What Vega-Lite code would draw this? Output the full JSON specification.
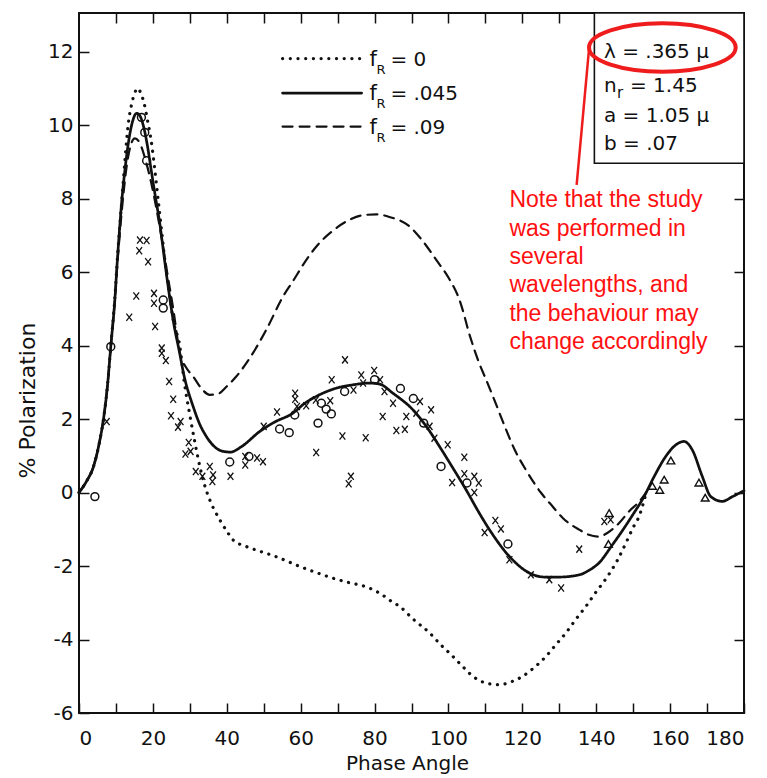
{
  "$schema": "https://vega.github.io/schema/vega-lite/v6.json",
  "width": 665,
  "height": 700,
  "autosize": {"type": "none"},
  "padding": {"left": 79, "top": 13, "right": 23, "bottom": 65},
  "background": "white",
  "config": {
    "view": {"stroke": "#111", "strokeWidth": 2},
    "axis": {
      "labelFont": "DejaVu Sans", "labelFontSize": 20, "labelColor": "#111",
      "titleFont": "DejaVu Sans", "titleFontSize": 21, "titleFontWeight": "normal", "titleColor": "#111",
      "tickColor": "#111", "tickWidth": 1.5, "domain": false, "grid": false
    }
  },
  "datasets": {
    "curves": [
      {"fR": ".045", "angle": 0, "pol": 0}, {"fR": ".045", "angle": 2, "pol": 0.3}, {"fR": ".045", "angle": 3.9, "pol": 0.7},
      {"fR": ".045", "angle": 5.5, "pol": 1.35}, {"fR": ".045", "angle": 6.6, "pol": 1.98}, {"fR": ".045", "angle": 7.7, "pol": 2.9},
      {"fR": ".045", "angle": 8.6, "pol": 3.97}, {"fR": ".045", "angle": 9.7, "pol": 5.24}, {"fR": ".045", "angle": 10.3, "pol": 6.2},
      {"fR": ".045", "angle": 11, "pol": 7.2}, {"fR": ".045", "angle": 11.5, "pol": 7.85}, {"fR": ".045", "angle": 12.4, "pol": 8.75},
      {"fR": ".045", "angle": 13.5, "pol": 9.6}, {"fR": ".045", "angle": 14.5, "pol": 10.1}, {"fR": ".045", "angle": 15.6, "pol": 10.32},
      {"fR": ".045", "angle": 16.5, "pol": 10.25}, {"fR": ".045", "angle": 17.5, "pol": 9.95}, {"fR": ".045", "angle": 18.5, "pol": 9.45},
      {"fR": ".045", "angle": 19.5, "pol": 8.8}, {"fR": ".045", "angle": 20.6, "pol": 8.1}, {"fR": ".045", "angle": 21.9, "pol": 7.3},
      {"fR": ".045", "angle": 23, "pol": 6.45}, {"fR": ".045", "angle": 24, "pol": 5.7}, {"fR": ".045", "angle": 25, "pol": 5.0},
      {"fR": ".045", "angle": 26, "pol": 4.4}, {"fR": ".045", "angle": 26.9, "pol": 3.97}, {"fR": ".045", "angle": 28.5, "pol": 3.15},
      {"fR": ".045", "angle": 30.9, "pol": 2.34}, {"fR": ".045", "angle": 32.5, "pol": 1.9}, {"fR": ".045", "angle": 34.5, "pol": 1.52},
      {"fR": ".045", "angle": 37, "pol": 1.22}, {"fR": ".045", "angle": 39, "pol": 1.12}, {"fR": ".045", "angle": 41, "pol": 1.1},
      {"fR": ".045", "angle": 44, "pol": 1.25}, {"fR": ".045", "angle": 48.9, "pol": 1.66}, {"fR": ".045", "angle": 53, "pol": 1.92},
      {"fR": ".045", "angle": 57.9, "pol": 2.16}, {"fR": ".045", "angle": 61, "pol": 2.42}, {"fR": ".045", "angle": 65.1, "pol": 2.66},
      {"fR": ".045", "angle": 70, "pol": 2.85}, {"fR": ".045", "angle": 74.1, "pol": 2.93}, {"fR": ".045", "angle": 78.6, "pol": 2.98},
      {"fR": ".045", "angle": 81.4, "pol": 2.95}, {"fR": ".045", "angle": 85, "pol": 2.7}, {"fR": ".045", "angle": 90.4, "pol": 2.25},
      {"fR": ".045", "angle": 94, "pol": 1.8}, {"fR": ".045", "angle": 97.6, "pol": 1.25}, {"fR": ".045", "angle": 101, "pol": 0.7},
      {"fR": ".045", "angle": 104.8, "pol": 0.07}, {"fR": ".045", "angle": 108, "pol": -0.5}, {"fR": ".045", "angle": 111.1, "pol": -1.01},
      {"fR": ".045", "angle": 116.5, "pol": -1.74}, {"fR": ".045", "angle": 121.9, "pol": -2.19}, {"fR": ".045", "angle": 126, "pol": -2.3},
      {"fR": ".045", "angle": 130, "pol": -2.3}, {"fR": ".045", "angle": 135.4, "pol": -2.24}, {"fR": ".045", "angle": 138, "pol": -2.12},
      {"fR": ".045", "angle": 140.8, "pol": -1.91}, {"fR": ".045", "angle": 144.4, "pol": -1.42}, {"fR": ".045", "angle": 147, "pol": -1.05},
      {"fR": ".045", "angle": 149.8, "pol": -0.62}, {"fR": ".045", "angle": 153, "pol": -0.1}, {"fR": ".045", "angle": 155.5, "pol": 0.4},
      {"fR": ".045", "angle": 158.8, "pol": 0.98}, {"fR": ".045", "angle": 161, "pol": 1.25}, {"fR": ".045", "angle": 163.8, "pol": 1.39},
      {"fR": ".045", "angle": 166, "pol": 1.16}, {"fR": ".045", "angle": 168.7, "pol": 0.44}, {"fR": ".045", "angle": 171, "pol": -0.11},
      {"fR": ".045", "angle": 174.1, "pol": -0.24}, {"fR": ".045", "angle": 176.9, "pol": -0.11}, {"fR": ".045", "angle": 180, "pol": 0.05},

      {"fR": ".09", "angle": 0, "pol": 0}, {"fR": ".09", "angle": 2, "pol": 0.3}, {"fR": ".09", "angle": 3.9, "pol": 0.7},
      {"fR": ".09", "angle": 5.5, "pol": 1.35}, {"fR": ".09", "angle": 6.6, "pol": 1.98}, {"fR": ".09", "angle": 7.7, "pol": 2.9},
      {"fR": ".09", "angle": 8.6, "pol": 3.97}, {"fR": ".09", "angle": 9.7, "pol": 5.24}, {"fR": ".09", "angle": 10.3, "pol": 6.1},
      {"fR": ".09", "angle": 11, "pol": 7.0}, {"fR": ".09", "angle": 12, "pol": 8.1}, {"fR": ".09", "angle": 13, "pol": 8.95},
      {"fR": ".09", "angle": 14, "pol": 9.45}, {"fR": ".09", "angle": 15.1, "pol": 9.64}, {"fR": ".09", "angle": 16.5, "pol": 9.5},
      {"fR": ".09", "angle": 18, "pol": 9.05}, {"fR": ".09", "angle": 19.5, "pol": 8.45}, {"fR": ".09", "angle": 21, "pol": 7.7},
      {"fR": ".09", "angle": 22.5, "pol": 6.85}, {"fR": ".09", "angle": 24, "pol": 5.9}, {"fR": ".09", "angle": 25.5, "pol": 5.0},
      {"fR": ".09", "angle": 27.3, "pol": 3.8}, {"fR": ".09", "angle": 29, "pol": 3.4}, {"fR": ".09", "angle": 30.9, "pol": 3.16},
      {"fR": ".09", "angle": 33, "pol": 2.85}, {"fR": ".09", "angle": 35.4, "pol": 2.66}, {"fR": ".09", "angle": 37.5, "pol": 2.68},
      {"fR": ".09", "angle": 39.9, "pol": 2.88}, {"fR": ".09", "angle": 42.5, "pol": 3.15}, {"fR": ".09", "angle": 45.3, "pol": 3.52},
      {"fR": ".09", "angle": 50.7, "pol": 4.43}, {"fR": ".09", "angle": 55.2, "pol": 5.33}, {"fR": ".09", "angle": 57.9, "pol": 5.75},
      {"fR": ".09", "angle": 61, "pol": 6.25}, {"fR": ".09", "angle": 64.2, "pol": 6.69}, {"fR": ".09", "angle": 69, "pol": 7.15},
      {"fR": ".09", "angle": 73.2, "pol": 7.42}, {"fR": ".09", "angle": 77, "pol": 7.55}, {"fR": ".09", "angle": 80.5, "pol": 7.57},
      {"fR": ".09", "angle": 84, "pol": 7.5}, {"fR": ".09", "angle": 89.5, "pol": 7.24}, {"fR": ".09", "angle": 93, "pol": 6.85},
      {"fR": ".09", "angle": 96.7, "pol": 6.33}, {"fR": ".09", "angle": 100, "pol": 5.85}, {"fR": ".09", "angle": 103, "pol": 5.24},
      {"fR": ".09", "angle": 106, "pol": 4.2}, {"fR": ".09", "angle": 108.4, "pol": 3.5}, {"fR": ".09", "angle": 110.2, "pol": 3.07},
      {"fR": ".09", "angle": 112.5, "pol": 2.5}, {"fR": ".09", "angle": 115.6, "pol": 1.71}, {"fR": ".09", "angle": 118, "pol": 1.15},
      {"fR": ".09", "angle": 121, "pol": 0.61}, {"fR": ".09", "angle": 125, "pol": 0.0}, {"fR": ".09", "angle": 128.2, "pol": -0.38},
      {"fR": ".09", "angle": 131, "pol": -0.7}, {"fR": ".09", "angle": 135.4, "pol": -1.01}, {"fR": ".09", "angle": 138, "pol": -1.15},
      {"fR": ".09", "angle": 140.8, "pol": -1.2}, {"fR": ".09", "angle": 143, "pol": -1.1}, {"fR": ".09", "angle": 146.2, "pol": -0.83},
      {"fR": ".09", "angle": 149, "pol": -0.5}, {"fR": ".09", "angle": 151.6, "pol": -0.25}, {"fR": ".09", "angle": 153.5, "pol": 0.0},

      {"fR": "0", "angle": 0, "pol": 0}, {"fR": "0", "angle": 2, "pol": 0.3}, {"fR": "0", "angle": 3.9, "pol": 0.7},
      {"fR": "0", "angle": 5.5, "pol": 1.35}, {"fR": "0", "angle": 6.6, "pol": 1.98}, {"fR": "0", "angle": 7.7, "pol": 2.9},
      {"fR": "0", "angle": 8.6, "pol": 3.97}, {"fR": "0", "angle": 9.7, "pol": 5.3}, {"fR": "0", "angle": 10.4, "pol": 6.4},
      {"fR": "0", "angle": 11, "pol": 7.2}, {"fR": "0", "angle": 11.7, "pol": 8.1}, {"fR": "0", "angle": 12.4, "pol": 9.0},
      {"fR": "0", "angle": 13.3, "pol": 10.0}, {"fR": "0", "angle": 14.2, "pol": 10.55}, {"fR": "0", "angle": 15, "pol": 10.85},
      {"fR": "0", "angle": 15.9, "pol": 11.0}, {"fR": "0", "angle": 16.8, "pol": 10.85}, {"fR": "0", "angle": 17.6, "pol": 10.6},
      {"fR": "0", "angle": 18.5, "pol": 10.15}, {"fR": "0", "angle": 19.5, "pol": 9.6}, {"fR": "0", "angle": 20.5, "pol": 8.8},
      {"fR": "0", "angle": 21.5, "pol": 7.9}, {"fR": "0", "angle": 22.5, "pol": 7.0}, {"fR": "0", "angle": 23.5, "pol": 6.1},
      {"fR": "0", "angle": 24.5, "pol": 5.4}, {"fR": "0", "angle": 25.5, "pol": 4.7}, {"fR": "0", "angle": 27.3, "pol": 3.97},
      {"fR": "0", "angle": 28.5, "pol": 3.0}, {"fR": "0", "angle": 29.9, "pol": 2.16}, {"fR": "0", "angle": 31.3, "pol": 1.4},
      {"fR": "0", "angle": 32.7, "pol": 0.71}, {"fR": "0", "angle": 34, "pol": 0.2}, {"fR": "0", "angle": 35.4, "pol": -0.2},
      {"fR": "0", "angle": 38.1, "pol": -0.74}, {"fR": "0", "angle": 40, "pol": -1.05}, {"fR": "0", "angle": 41.7, "pol": -1.29},
      {"fR": "0", "angle": 45.3, "pol": -1.47}, {"fR": "0", "angle": 49, "pol": -1.6}, {"fR": "0", "angle": 53.2, "pol": -1.74},
      {"fR": "0", "angle": 59.7, "pol": -2.01}, {"fR": "0", "angle": 64, "pol": -2.17}, {"fR": "0", "angle": 68.7, "pol": -2.33},
      {"fR": "0", "angle": 73, "pol": -2.45}, {"fR": "0", "angle": 77.5, "pol": -2.56}, {"fR": "0", "angle": 81.4, "pol": -2.74},
      {"fR": "0", "angle": 84.7, "pol": -2.97}, {"fR": "0", "angle": 86.8, "pol": -3.1}, {"fR": "0", "angle": 90.5, "pol": -3.45},
      {"fR": "0", "angle": 94.9, "pol": -3.82}, {"fR": "0", "angle": 98, "pol": -4.15}, {"fR": "0", "angle": 101.2, "pol": -4.46},
      {"fR": "0", "angle": 104, "pol": -4.75}, {"fR": "0", "angle": 106.6, "pol": -5.0}, {"fR": "0", "angle": 110, "pol": -5.18},
      {"fR": "0", "angle": 113.8, "pol": -5.23}, {"fR": "0", "angle": 117, "pol": -5.15}, {"fR": "0", "angle": 120.1, "pol": -5.0},
      {"fR": "0", "angle": 123, "pol": -4.78}, {"fR": "0", "angle": 126.4, "pol": -4.46}, {"fR": "0", "angle": 129, "pol": -4.15},
      {"fR": "0", "angle": 131.8, "pol": -3.82}, {"fR": "0", "angle": 134.5, "pol": -3.45}, {"fR": "0", "angle": 137.2, "pol": -3.1},
      {"fR": "0", "angle": 140, "pol": -2.7}, {"fR": "0", "angle": 142.6, "pol": -2.35}, {"fR": "0", "angle": 145.8, "pol": -1.83},
      {"fR": "0", "angle": 148, "pol": -1.38}, {"fR": "0", "angle": 150, "pol": -0.95}, {"fR": "0", "angle": 151.6, "pol": -0.65},
      {"fR": "0", "angle": 153.4, "pol": -0.05}
    ],
    "crosses": [
      {"angle": 7.5, "pol": 1.93}, {"angle": 13.6, "pol": 4.77}, {"angle": 15.5, "pol": 5.35}, {"angle": 16.5, "pol": 6.87},
      {"angle": 18.3, "pol": 6.86}, {"angle": 16.3, "pol": 6.58}, {"angle": 18.7, "pol": 6.28}, {"angle": 20.3, "pol": 5.42},
      {"angle": 20.3, "pol": 5.15}, {"angle": 20.6, "pol": 4.52}, {"angle": 22.4, "pol": 3.93}, {"angle": 22.4, "pol": 3.79},
      {"angle": 23.5, "pol": 3.59}, {"angle": 24.4, "pol": 3.02}, {"angle": 25.5, "pol": 2.54}, {"angle": 24.9, "pol": 2.09},
      {"angle": 27.5, "pol": 1.93}, {"angle": 26.8, "pol": 1.78}, {"angle": 29.7, "pol": 1.36}, {"angle": 30.2, "pol": 1.12},
      {"angle": 28.8, "pol": 1.05}, {"angle": 31.6, "pol": 0.57}, {"angle": 33.4, "pol": 0.44}, {"angle": 35.4, "pol": 0.71},
      {"angle": 36.3, "pol": 0.48}, {"angle": 36.1, "pol": 0.3}, {"angle": 41, "pol": 0.44}, {"angle": 45, "pol": 0.98},
      {"angle": 45, "pol": 0.75}, {"angle": 48.2, "pol": 0.94}, {"angle": 49.8, "pol": 0.84}, {"angle": 50, "pol": 1.8},
      {"angle": 53.6, "pol": 2.19}, {"angle": 58.5, "pol": 2.7}, {"angle": 58.5, "pol": 2.54}, {"angle": 59, "pol": 2.34},
      {"angle": 61.5, "pol": 2.36}, {"angle": 64.1, "pol": 2.52}, {"angle": 68, "pol": 2.5}, {"angle": 64.2, "pol": 1.09},
      {"angle": 68.4, "pol": 3.07}, {"angle": 72, "pol": 3.61}, {"angle": 71.3, "pol": 1.54}, {"angle": 73.6, "pol": 0.44},
      {"angle": 73, "pol": 0.24}, {"angle": 74.3, "pol": 2.79}, {"angle": 76.4, "pol": 3.2}, {"angle": 76.9, "pol": 2.98},
      {"angle": 77.6, "pol": 1.49}, {"angle": 79.9, "pol": 3.32}, {"angle": 81.5, "pol": 3.07}, {"angle": 82.2, "pol": 2.07},
      {"angle": 82.7, "pol": 2.75}, {"angle": 85, "pol": 2.43}, {"angle": 85.9, "pol": 1.69}, {"angle": 88.2, "pol": 1.72},
      {"angle": 88.6, "pol": 2.07}, {"angle": 91.3, "pol": 2.16}, {"angle": 92.3, "pol": 2.48}, {"angle": 95.3, "pol": 2.25},
      {"angle": 94.9, "pol": 1.8}, {"angle": 96.2, "pol": 1.48}, {"angle": 99.8, "pol": 1.3}, {"angle": 104.3, "pol": 0.96},
      {"angle": 104.3, "pol": 0.51}, {"angle": 107, "pol": 0.44}, {"angle": 108.2, "pol": 0.26}, {"angle": 107, "pol": 0},
      {"angle": 101, "pol": 0.27}, {"angle": 112.7, "pol": -0.76}, {"angle": 114.2, "pol": -0.99}, {"angle": 109.8, "pol": -1.09},
      {"angle": 116.5, "pol": -1.83}, {"angle": 122.3, "pol": -2.24}, {"angle": 127.3, "pol": -2.37}, {"angle": 130.5, "pol": -2.6},
      {"angle": 135.4, "pol": -1.54}, {"angle": 142.2, "pol": -0.79}, {"angle": 143.9, "pol": -0.74}
    ],
    "circles": [
      {"angle": 4.3, "pol": -0.11}, {"angle": 8.6, "pol": 3.97}, {"angle": 16.9, "pol": 10.21}, {"angle": 17.8, "pol": 9.8},
      {"angle": 18.3, "pol": 9.03}, {"angle": 22.8, "pol": 5.24}, {"angle": 22.8, "pol": 5.02}, {"angle": 40.8, "pol": 0.83},
      {"angle": 46, "pol": 0.98}, {"angle": 54.3, "pol": 1.73}, {"angle": 56.9, "pol": 1.63}, {"angle": 58.4, "pol": 2.11},
      {"angle": 64.7, "pol": 1.89}, {"angle": 65.6, "pol": 2.43}, {"angle": 66.9, "pol": 2.27}, {"angle": 68.3, "pol": 2.14},
      {"angle": 71.9, "pol": 2.75}, {"angle": 80, "pol": 3.07}, {"angle": 87, "pol": 2.83}, {"angle": 90.5, "pol": 2.56},
      {"angle": 93.3, "pol": 1.89}, {"angle": 98, "pol": 0.71}, {"angle": 105, "pol": 0.26}, {"angle": 116.1, "pol": -1.4}
    ],
    "triangles": [
      {"angle": 143.5, "pol": -0.56}, {"angle": 143.3, "pol": -1.4}, {"angle": 155.2, "pol": 0.18}, {"angle": 157.2, "pol": 0.07},
      {"angle": 158.4, "pol": 0.35}, {"angle": 160.2, "pol": 0.87}, {"angle": 167.8, "pol": 0.27}, {"angle": 169.5, "pol": -0.14}
    ],
    "legend": [
      {"fR": "0", "angle": 55.1, "angle2": 76.5, "tx": 78.6, "pol": 11.81, "label": "= 0"},
      {"fR": ".045", "angle": 55.1, "angle2": 76.5, "tx": 78.6, "pol": 10.87, "label": "= .045"},
      {"fR": ".09", "angle": 55.1, "angle2": 76.5, "tx": 78.6, "pol": 9.96, "label": "= .09"}
    ],
    "box": [{"angle": 139.5, "angle2": 180, "pol": 8.96, "pol2": 13.05}],
    "params": [
      {"angle": 142.1, "pol": 11.82, "txt": "λ = .365 μ"},
      {"angle": 142.1, "pol": 10.91, "txt": "n"},
      {"angle": 142.1, "pol": 10.09, "txt": "a = 1.05 μ"},
      {"angle": 142.1, "pol": 9.32, "txt": "b = .07"}
    ],
    "paramsub": [{"angle": 142.1, "pol": 10.91, "sub": "r", "rest": "= 1.45"}],
    "ellipse": [{"angle": 157.9, "pol": 12.11}],
    "pointer": [{"angle": 138.1, "pol": 12.12, "angle2": 134.7, "pol2": 8.37}],
    "note": [{"angle": 116.5, "pol": 7.76, "txt": "Note that the study\nwas performed in\nseveral\nwavelengths, and\nthe behaviour may\nchange accordingly"}]
  },
  "encoding": {
    "x": {"field": "angle", "type": "quantitative", "scale": {"domain": [0, 180], "nice": false, "zero": false}, "axis": null},
    "y": {"field": "pol", "type": "quantitative", "scale": {"domain": [-6, 13.05], "nice": false, "zero": false}, "axis": null}
  },
  "layer": [
    {
      "data": {"name": "curves"},
      "mark": {"type": "line", "strokeCap": "round", "interpolate": "monotone", "color": "#111"},
      "encoding": {
        "x": {"field": "angle", "type": "quantitative", "scale": {"domain": [0, 180], "nice": false, "zero": false},
          "axis": {"orient": "bottom", "values": [0, 10, 20, 30, 40, 50, 60, 70, 80, 90, 100, 110, 120, 130, 140, 150, 160, 170, 180],
            "labelExpr": "datum.value % 20 === 0 ? datum.label : ''", "tickSize": -10, "labelPadding": 25,
            "title": "Phase Angle", "titlePadding": 5, "titleX": 328, "titleFontSize": 20}},
        "y": {"field": "pol", "type": "quantitative", "scale": {"domain": [-6, 13.05], "nice": false, "zero": false},
          "axis": {"orient": "left", "values": [-6, -4, -2, 0, 2, 4, 6, 8, 10, 12],
            "labelExpr": "datum.value < 0 ? '-' + (-datum.value) : datum.label", "tickSize": -10, "labelPadding": 16,
            "title": "% Polarization", "titlePadding": 8, "titleY": 387, "titleFontSize": 22}},
        "strokeDash": {"field": "fR", "type": "nominal", "scale": {"domain": ["0", ".045", ".09"], "range": [[0.1, 7.6], [1, 0], [10, 7]]}, "legend": null},
        "strokeWidth": {"field": "fR", "type": "nominal", "scale": {"domain": ["0", ".045", ".09"], "range": [3.2, 2.2, 1.7]}, "legend": null}
      }
    },
    {
      "data": {"name": "crosses"},
      "mark": {"type": "point", "shape": "M -0.8 -1 L 0.8 1 M 0.8 -1 L -0.8 1", "size": 52, "filled": false, "stroke": "#111", "strokeWidth": 1.3, "opacity": 1},
      "encoding": {
        "x": {"field": "angle", "type": "quantitative", "scale": {"domain": [0, 180], "nice": false, "zero": false},
          "axis": {"orient": "top", "values": [10, 20, 30, 40, 50, 60, 70, 80, 90, 100, 110, 120, 130], "labels": false, "tickSize": -10, "title": null}},
        "y": {"field": "pol", "type": "quantitative", "scale": {"domain": [-6, 13.05], "nice": false, "zero": false},
          "axis": {"orient": "right", "values": [-4, -2, 0, 2, 4, 6, 8], "labels": false, "tickSize": -10, "title": null}}
      }
    },
    {
      "data": {"name": "circles"},
      "mark": {"type": "point", "shape": "circle", "size": 62, "filled": false, "stroke": "#111", "strokeWidth": 1.5, "opacity": 1}
    },
    {
      "data": {"name": "triangles"},
      "mark": {"type": "point", "shape": "triangle-up", "size": 60, "filled": false, "stroke": "#111", "strokeWidth": 1.4, "opacity": 1}
    },
    {
      "data": {"name": "box"},
      "mark": {"type": "rect", "fill": "white", "stroke": "#111", "strokeWidth": 1.6},
      "encoding": {
        "x2": {"field": "angle2"},
        "y2": {"field": "pol2"}
      }
    },
    {
      "data": {"name": "legend"},
      "mark": {"type": "rule", "strokeCap": "round", "color": "#111"},
      "encoding": {
        "x2": {"field": "angle2"},
        "strokeDash": {"field": "fR", "type": "nominal", "scale": {"domain": ["0", ".045", ".09"], "range": [[0.1, 7.6], [1, 0], [10, 7]]}, "legend": null},
        "strokeWidth": {"field": "fR", "type": "nominal", "scale": {"domain": ["0", ".045", ".09"], "range": [3.2, 2.2, 1.7]}, "legend": null}
      }
    },
    {
      "data": {"name": "legend"},
      "mark": {"type": "text", "text": "f", "align": "left", "baseline": "alphabetic", "dy": 7, "font": "DejaVu Sans", "fontSize": 21, "color": "#111"},
      "encoding": {"x": {"field": "tx", "type": "quantitative", "scale": {"domain": [0, 180], "nice": false, "zero": false}, "axis": null}}
    },
    {
      "data": {"name": "legend"},
      "mark": {"type": "text", "text": "R", "align": "left", "baseline": "alphabetic", "dx": 7, "dy": 15, "font": "DejaVu Sans", "fontSize": 13, "color": "#111"},
      "encoding": {"x": {"field": "tx", "type": "quantitative", "scale": {"domain": [0, 180], "nice": false, "zero": false}, "axis": null}}
    },
    {
      "data": {"name": "legend"},
      "mark": {"type": "text", "align": "left", "baseline": "alphabetic", "dx": 21, "dy": 7, "font": "DejaVu Sans", "fontSize": 20, "color": "#111"},
      "encoding": {
        "x": {"field": "tx", "type": "quantitative", "scale": {"domain": [0, 180], "nice": false, "zero": false}, "axis": null},
        "text": {"field": "label"}
      }
    },
    {
      "data": {"name": "params"},
      "mark": {"type": "text", "align": "left", "baseline": "alphabetic", "font": "DejaVu Sans", "fontSize": 20, "color": "#111"},
      "encoding": {"text": {"field": "txt"}}
    },
    {
      "data": {"name": "paramsub"},
      "mark": {"type": "text", "align": "left", "baseline": "alphabetic", "dx": 13, "dy": 6, "font": "DejaVu Sans", "fontSize": 15, "color": "#111"},
      "encoding": {"text": {"field": "sub"}}
    },
    {
      "data": {"name": "paramsub"},
      "mark": {"type": "text", "align": "left", "baseline": "alphabetic", "dx": 26, "font": "DejaVu Sans", "fontSize": 20, "color": "#111"},
      "encoding": {"text": {"field": "rest"}}
    },
    {
      "data": {"name": "ellipse"},
      "mark": {"type": "point", "shape": "M -1 0 A 1 0.33 0 1 1 1 0 A 1 0.33 0 1 1 -1 0 Z", "size": 21500, "filled": false, "stroke": "#ee1c1c", "strokeWidth": 4, "opacity": 1}
    },
    {
      "data": {"name": "pointer"},
      "mark": {"type": "rule", "color": "#ee1c1c", "strokeWidth": 2.5},
      "encoding": {
        "x2": {"field": "angle2"},
        "y2": {"field": "pol2"}
      }
    },
    {
      "data": {"name": "note"},
      "mark": {"type": "text", "align": "left", "baseline": "alphabetic", "lineBreak": "\n", "lineHeight": 28.3, "font": "Liberation Sans", "fontSize": 23, "color": "#ff1010"},
      "encoding": {"text": {"field": "txt"}}
    }
  ],
  "resolve": {"axis": {"x": "independent", "y": "independent"}}
}
